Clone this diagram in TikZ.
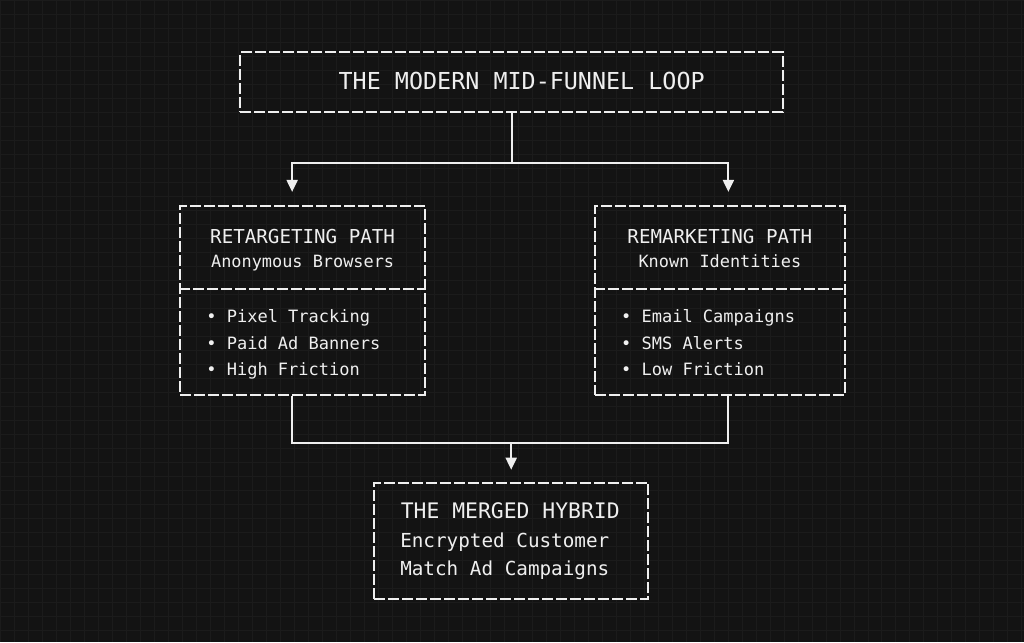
\documentclass[tikz,border=0pt]{standalone}
\usepackage{fontspec}
\setmonofont{DejaVu Sans Mono}
\usepackage{xcolor}
\usepackage{tikz}
\usetikzlibrary{arrows.meta,calc}
\definecolor{bgdark}{HTML}{131313}
\definecolor{gridc}{HTML}{1B1B1B}
\definecolor{chalk}{HTML}{EFEFEF}
\tikzset{
  border/.style={draw=chalk, line width=2pt, dash pattern=on 11pt off 3pt},
  card/.style={border, rectangle, inner sep=0pt},
  wire/.style={draw=chalk, line width=2pt},
  flow/.style={wire, -{Triangle[length=12pt,width=11pt]}},
  txt/.style={text=chalk, inner sep=0pt, font=\ttfamily\fontsize{#1}{#1}\selectfont},
}
\def\yDiv{289.3}
\def\yCard{300.5}
% card with heading, subtitle and a bullet list
\newcommand{\pathcard}[6]{%
  \node[card, minimum width=#3, minimum height=189] (#1) at (#2,\yCard) {};
  \draw[border] (#1.west |- 0,\yDiv) -- (#1.east |- 0,\yDiv);
  \node[txt=19.2, anchor=base] (#1-head) at (#2,243.3) {#4};
  \node[txt=16.9, anchor=base] (#1-sub) at (#2,267.7) {#5};
  \foreach \entry [count=\k] in {#6}
    \node[txt=17, anchor=base west] (#1-item\k) at ({#2-#3/2+26},{296.4+26.3*\k}) {•~\entry};}

\begin{document}
\begin{tikzpicture}[x=1pt, y=-1pt]
  \fill[bgdark] (0,0) rectangle (1024,642);
  \foreach \gx in {0,14,...,1022} \draw[gridc, line width=0.6pt] (\gx,0) -- (\gx,642);
  \foreach \gy in {0,14,...,640} \draw[gridc, line width=0.6pt] (0,\gy) -- (1024,\gy);
  \useasboundingbox (0,0) rectangle (1024,642);

  \node[card, minimum width=543, minimum height=59.5] (title) at (511.5,81.8) {};
  \node[txt=23.4, anchor=base] (title-text) at (521.7,88.8) {THE MODERN MID-FUNNEL LOOP};

  \pathcard{lp}{302.5}{245}{RETARGETING PATH}{Anonymous Browsers}{Pixel Tracking,Paid Ad Banners,High Friction}
  \pathcard{rp}{720}{250}{REMARKETING PATH}{Known Identities}{Email Campaigns,SMS Alerts,Low Friction}

  \node[card, minimum width=274, minimum height=116.6] (merge) at (511.2,541) {};
  \node[txt=21.4, anchor=base west] (merge-head) at (400.5,518.3) {THE MERGED HYBRID};
  \node[txt=19.3, anchor=base west] (merge-l1) at (400,547.7) {Encrypted Customer};
  \node[txt=19.3, anchor=base west] (merge-l2) at (400,576) {Match Ad Campaigns};

  \draw[flow, shorten >=13.3pt] (title.south) -- ++(0,50.6) -| ([xshift=-10.5pt]lp.north);
  \draw[flow, shorten >=13.3pt] (title.south) -- ++(0,50.6) -| ([xshift=8.5pt]rp.north);
  \draw[wire] ([xshift=-10.5pt]lp.south) -- ++(0,47.3) -| ([xshift=8.5pt]rp.south);
  \coordinate (join) at (merge.north |- 0,442.3);
  \draw[flow, shorten >=12pt] (join) -- (merge.north);
\end{tikzpicture}
\end{document}
